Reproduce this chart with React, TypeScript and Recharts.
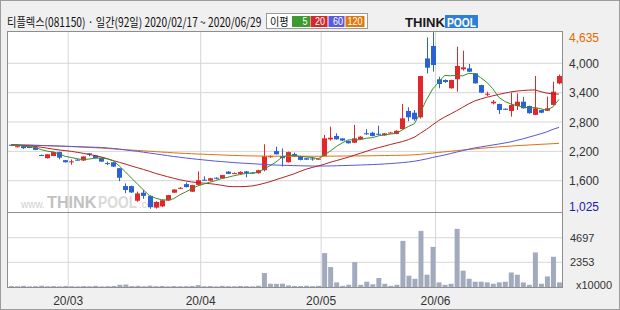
import React from 'react';
import { ComposedChart, Bar, Line, XAxis, YAxis, CartesianGrid } from 'recharts';

// 티플렉스(081150) daily, 2020/02/17 ~ 2020/06/29 (92 sessions)
const monthTicks = [9.5, 31.5, 51.5, 70.5];
const monthLabels = ['20/03', '20/04', '20/05', '20/06'];
const priceTicks = [1025, 1600, 2200, 2800, 3400, 4000, 4635];
const priceGrid = [1600, 2200, 2800, 3400, 4000];
const volumeTicks = [0, 2353, 4697];
const volumeGrid = [2353, 4697];

const opens = [
  2335, 2285, 2305, 2290, 2280, 2125, 2060, 2105, 2185, 2020,
  1985, 2030, 2012, 2160, 2115, 2070, 1960, 1975, 1855, 1490,
  1490, 1190, 1355, 1290, 1050, 1075, 1195, 1355, 1440, 1530,
  1375, 1515, 1620, 1600, 1660, 1650, 1785, 1745, 1740, 1790,
  1765, 1752, 1815, 2080, 2205, 2105, 1978, 2145, 2104, 2060,
  2055, 2040, 2104, 2445, 2515, 2465, 2410, 2376, 2446, 2570,
  2580, 2560, 2527, 2575, 2555, 2656, 3025, 2990, 2896, 4100,
  4354, 3673, 3658, 3490, 3673, 3877, 3898, 3795, 3556, 3365,
  3182, 3168, 3070, 3025, 3127, 3215, 3127, 2945, 3045, 3030,
  3150, 3590,
];
const highs = [
  2345, 2310, 2320, 2300, 2285, 2135, 2145, 2195, 2195, 2025,
  2035, 2040, 2100, 2165, 2120, 2075, 1990, 1985, 1860, 1545,
  1500, 1375, 1410, 1300, 1180, 1215, 1310, 1425, 1470, 1565,
  1515, 1790, 1690, 1660, 1670, 1720, 1795, 1770, 1790, 1800,
  1775, 1825, 2345, 2115, 2295, 2260, 2195, 2175, 2110, 2065,
  2080, 2060, 2535, 2705, 2570, 2470, 2420, 2740, 2510, 2655,
  2600, 2725, 2575, 2600, 2630, 3170, 3100, 3045, 3745, 4530,
  4635, 3726, 3670, 3665, 4340, 4258, 3985, 3800, 3560, 3420,
  3250, 3175, 3080, 3400, 3385, 3315, 3135, 3740, 3050, 3320,
  3625, 3770,
];
const lows = [
  2315, 2280, 2250, 2265, 2225, 2105, 2055, 2100, 2035, 1970,
  1925, 2010, 2005, 2100, 2055, 1985, 1920, 1880, 1590, 1345,
  1350, 1170, 1230, 1025, 1030, 1060, 1190, 1350, 1430, 1460,
  1370, 1505, 1600, 1595, 1630, 1645, 1735, 1740, 1735, 1670,
  1745, 1745, 1790, 2070, 2135, 1890, 1970, 2085, 2015, 2025,
  2010, 2035, 2095, 2420, 2440, 2410, 2360, 2370, 2440, 2540,
  2505, 2530, 2520, 2570, 2550, 2640, 2815, 2826, 2870, 3795,
  3830, 3489, 3600, 3480, 3420, 3850, 3820, 3585, 3390, 3330,
  3160, 2965, 3050, 2910, 3045, 3075, 2970, 2940, 2980, 3025,
  3140, 3570,
];
const closes = [
  2325, 2305, 2265, 2272, 2230, 2115, 2140, 2185, 2070, 1978,
  1995, 2015, 2094, 2135, 2065, 1990, 1950, 1888, 1660, 1410,
  1360, 1340, 1290, 1060, 1165, 1200, 1305, 1420, 1455, 1470,
  1510, 1610, 1605, 1650, 1640, 1715, 1740, 1755, 1780, 1755,
  1750, 1815, 2100, 2100, 2140, 2060, 2185, 2092, 2025, 2030,
  2045, 2050, 2466, 2478, 2446, 2420, 2365, 2466, 2500, 2548,
  2515, 2550, 2568, 2585, 2620, 2875, 2896, 2855, 3740, 3910,
  3965, 3577, 3617, 3658, 3945, 3917, 3828, 3590, 3400, 3378,
  3215, 3045, 3060, 3147, 3215, 3080, 2980, 3080, 2990, 3080,
  3420, 3740,
];
const ma5 = [
  2340, 2330, 2310, 2295, 2280, 2237, 2204, 2188, 2148, 2098,
  2074, 2049, 2030, 2043, 2061, 2060, 2047, 2005, 1899, 1780,
  1654, 1532, 1412, 1292, 1243, 1211, 1204, 1230, 1309, 1370,
  1432, 1493, 1530, 1569, 1603, 1644, 1670, 1701, 1726, 1749,
  1756, 1771, 1840, 1904, 1981, 2083, 2117, 2115, 2100, 2086,
  2075, 2048, 2123, 2204, 2297, 2372, 2435, 2435, 2439, 2469,
  2479, 2516, 2536, 2553, 2568, 2640, 2709, 2766, 3000, 3255,
  3473, 3609, 3752, 3745, 3752, 3743, 3793, 3788, 3706, 3613,
  3482, 3306, 3220, 3169, 3136, 3109, 3088, 3096, 3069, 3040,
  3110, 3262,
];
const ma20 = [
  2333, 2325, 2318, 2310, 2300, 2285, 2265, 2245, 2228, 2215,
  2200, 2180, 2160, 2135, 2112, 2085, 2050, 2010, 1975, 1940,
  1900, 1865, 1830, 1790, 1750, 1715, 1682, 1650, 1620, 1595,
  1575, 1560, 1550, 1540, 1525, 1505, 1485, 1478, 1478, 1482,
  1492, 1515, 1545, 1580, 1620, 1660, 1700, 1740, 1790, 1835,
  1870, 1900, 1935, 1975, 2010, 2045, 2080, 2120, 2160, 2200,
  2240, 2275, 2305, 2340, 2370, 2400, 2440, 2490, 2570, 2650,
  2740, 2830, 2900, 2965, 3030, 3100, 3170, 3230, 3270, 3305,
  3335, 3365, 3390, 3415, 3432, 3445, 3452, 3455, 3420, 3390,
  3375, 3370,
];
const ma60 = [
  2335, 2333, 2330, 2327, 2324, 2320, 2316, 2312, 2308, 2304,
  2300, 2296, 2292, 2288, 2284, 2280, 2270, 2258, 2245, 2230,
  2215, 2200, 2183, 2165, 2148, 2130, 2112, 2095, 2080, 2065,
  2050, 2037, 2025, 2012, 2000, 1990, 1980, 1970, 1962, 1955,
  1948, 1940, 1932, 1925, 1920, 1915, 1912, 1908, 1905, 1903,
  1900, 1900, 1900, 1902, 1905, 1908, 1912, 1916, 1920, 1925,
  1930, 1935, 1942, 1950, 1960, 1970, 1982, 1998, 2020, 2045,
  2075, 2100, 2125, 2155, 2185, 2215, 2245, 2270, 2290, 2310,
  2330, 2350, 2370, 2395, 2425, 2455, 2490, 2525, 2560, 2600,
  2650, 2690,
];
const ma120 = [
  2332, 2330, 2328, 2326, 2323, 2320, 2316, 2312, 2308, 2303,
  2298, 2292, 2286, 2280, 2273, 2266, 2258, 2250, 2242, 2234,
  2226, 2218, 2210, 2202, 2194, 2186, 2178, 2170, 2163, 2157,
  2151, 2146, 2141, 2136, 2131, 2126, 2121, 2117, 2113, 2110,
  2107, 2105, 2103, 2102, 2101, 2100, 2100, 2100, 2100, 2100,
  2100, 2100, 2101, 2102, 2103, 2104, 2105, 2106, 2107, 2108,
  2110, 2112, 2114, 2116, 2118, 2121, 2124, 2130, 2140, 2152,
  2165, 2178, 2190, 2202, 2214, 2226, 2238, 2250, 2262, 2272,
  2282, 2292, 2300, 2308, 2316, 2323, 2330, 2337, 2344, 2350,
  2357, 2364,
];
// volume in units of 10,000 shares
const volumes = [
  90, 70, 110, 60, 80, 120, 70, 90, 60, 100,
  80, 60, 90, 70, 110, 60, 80, 100, 210, 230,
  90, 110, 70, 130, 80, 100, 60, 90, 70, 80,
  100, 180, 70, 90, 60, 110, 80, 70, 100, 90,
  60, 120, 1330, 310, 300, 320, 150, 100, 90, 120,
  80, 110, 3230, 1900, 440, 110, 210, 2370, 210, 505,
  260, 855, 310, 110, 210, 4395, 1075, 785, 5345, 1170,
  3820, 440, 210, 310, 5540, 1560, 785, 505, 505, 440,
  310, 440, 505, 1390, 1170, 440, 210, 3290, 310, 1010,
  2880, 440,
];

const RED = '#e3262a';
const BLUE = '#2a62d6';
const NUM_FONT = "'Liberation Sans', Arial, sans-serif";
const KR_FONT = "'Noto Sans CJK KR', 'Noto Sans', sans-serif";

const rows = closes.map((close, i) => ({
  idx: i,
  open: opens[i],
  high: highs[i],
  low: lows[i],
  close,
  range: [lows[i], highs[i]],
  ma5: ma5[i],
  ma20: ma20[i],
  ma60: ma60[i],
  ma120: ma120[i],
  vol: volumes[i],
}));

function Candle(props: any) {
  const { x, y, width, height, payload } = props;
  if (x == null || y == null) return null;
  const top = Math.min(y, y + height);
  const h = Math.abs(height);
  const k = h / Math.max(1, payload.high - payload.low);
  const up = payload.close >= payload.open;
  const color = up ? RED : BLUE;
  const cx = Math.floor(x + width / 2);
  const bTop = top + (payload.high - Math.max(payload.open, payload.close)) * k;
  const bBot = top + (payload.high - Math.min(payload.open, payload.close)) * k;
  return (
    <g>
      <line x1={cx + 0.5} x2={cx + 0.5} y1={top} y2={top + h} stroke={color} strokeWidth={1} />
      <rect x={cx - 2} y={bTop} width={5} height={Math.max(1, bBot - bTop)} fill={color} />
    </g>
  );
}

function PriceTick(props: any) {
  const { y, payload } = props;
  const v = payload.value;
  const color = v === 4635 ? '#e06a00' : v === 1025 ? '#1c1cb0' : '#333';
  const ty = Math.min(Math.max(y, 37.5), 206.5);
  return (
    <text x={569} y={ty} dy={4.5} fill={color} fontSize={12} fontFamily={NUM_FONT}>
      {v.toLocaleString('en-US')}
    </text>
  );
}

function VolumeTick(props: any) {
  const { y, payload } = props;
  const v = payload.value;
  if (v === 0) {
    return (
      <text x={576} y={y - 2} dy={4} fill="#333" fontSize={11} fontFamily={NUM_FONT}>
        x10000
      </text>
    );
  }
  return (
    <text x={570} y={y} dy={4} fill="#333" fontSize={11} fontFamily={NUM_FONT}>
      {v}
    </text>
  );
}

function MonthTick(props: any) {
  const { x, payload } = props;
  const label = monthLabels[monthTicks.indexOf(payload.value)];
  return (
    <text x={x} y={305} textAnchor="middle" fill="#333" fontSize={12} fontFamily={NUM_FONT}>
      {label}
    </text>
  );
}

export default function App() {
  return (
    <div style={{ position: 'absolute', left: 0, top: 0, width: 620, height: 310, overflow: 'hidden' }}>
      <svg width={620} height={310} style={{ position: 'absolute', left: 0, top: 0 }}>
        <rect x={0} y={0} width={620} height={310} fill="#f0f0f0" />
        <rect x={0.5} y={0.5} width={619} height={309} fill="none" stroke="#9c9c9c" />
        <rect x={7.5} y={31.5} width={555} height={256} fill="#fff" stroke="#8e8e8e" />
        <line x1={8} x2={562} y1={212.5} y2={212.5} stroke="#8e8e8e" />

        {/* watermark */}
        <text x={21} y={208} fontSize={10} fill="#cfcfcf" fontFamily={NUM_FONT}>www.</text>
        <text transform="translate(47,208) scale(0.9,1)" fontSize={17} fontWeight="bold" fill="#c2c2c2"
          fontFamily={NUM_FONT} textLength={55} lengthAdjust="spacingAndGlyphs">THINK</text>
        <text transform="translate(98,208) scale(0.85,1)" fontSize={17} fontWeight="bold" fill="#dadada"
          fontFamily={NUM_FONT} textLength={46} lengthAdjust="spacingAndGlyphs">POOL</text>
        <text x={139} y={208} fontSize={10} fill="#cfcfcf" fontFamily={NUM_FONT}>.com</text>

        {/* header */}
        <text transform="translate(7,26.5) scale(0.8,1)" fontSize={12.5} fill="#111" fontFamily={KR_FONT}
          textLength={318} lengthAdjust="spacingAndGlyphs">
          티플렉스(081150) · 일간(92일) 2020/02/17 ~ 2020/06/29
        </text>
        <rect x={266.5} y={13.5} width={101} height={15} fill="#fff" stroke="#9a9a9a" />
        <text transform="translate(270,25.5) scale(0.85,1)" fontSize={11} fill="#111" fontFamily={KR_FONT}
          textLength={22} lengthAdjust="spacingAndGlyphs">이평</text>
        <rect x={292} y={16} width={18} height={11} fill="#3d9a2f" />
        <rect x={310.5} y={16} width={17} height={11} fill="#d12a2a" />
        <rect x={328.5} y={16} width={16} height={11} fill="#5a5ae2" />
        <rect x={345.5} y={16} width={19} height={11} fill="#e0780e" />
        <text x={302.5} y={25} fontSize={10} fill="#fff" fontFamily={NUM_FONT}
          textLength={5} lengthAdjust="spacingAndGlyphs">5</text>
        <text x={315} y={25} fontSize={10} fill="#fff" fontFamily={NUM_FONT}
          textLength={10} lengthAdjust="spacingAndGlyphs">20</text>
        <text x={333} y={25} fontSize={10} fill="#fff" fontFamily={NUM_FONT}
          textLength={10} lengthAdjust="spacingAndGlyphs">60</text>
        <text x={347.5} y={25} fontSize={10} fill="#fff" fontFamily={NUM_FONT}
          textLength={15} lengthAdjust="spacingAndGlyphs">120</text>

        {/* logo */}
        <text x={405} y={27} fontSize={13} fontWeight="bold" fill="#1a1a1a" fontFamily={NUM_FONT}
          textLength={40} lengthAdjust="spacingAndGlyphs">THINK</text>
        <rect x={445} y={15} width={33} height={13} fill="#2f7fd4" />
        <text x={447} y={27} fontSize={13} fontWeight="bold" fill="#fff" fontFamily={NUM_FONT}
          textLength={29} lengthAdjust="spacingAndGlyphs">POOL</text>
      </svg>

      <div style={{ position: 'absolute', left: 0, top: 0 }}>
        <ComposedChart width={620} height={214} data={rows}
          margin={{ top: 32, right: 0, bottom: 2, left: 8 }}>
          <CartesianGrid stroke="#d6d6d6" horizontalValues={priceGrid} verticalValues={monthTicks} />
          <XAxis dataKey="idx" type="number" domain={[-0.5, 91.5]} ticks={monthTicks} hide />
          <YAxis orientation="right" width={58} domain={[960, 4640]} ticks={priceTicks}
            interval={0} axisLine={false} tickLine={false} tick={<PriceTick />} allowDataOverflow />
          <Line dataKey="ma120" stroke="#e07010" strokeWidth={1} dot={false} isAnimationActive={false} />
          <Line dataKey="ma60" stroke="#5656e0" strokeWidth={1} dot={false} isAnimationActive={false} />
          <Line dataKey="ma20" stroke="#b42222" strokeWidth={1} dot={false} isAnimationActive={false} />
          <Line dataKey="ma5" stroke="#3c8c2c" strokeWidth={1} dot={false} isAnimationActive={false} />
          <Bar dataKey="range" barSize={5} shape={<Candle />} isAnimationActive={false} />
        </ComposedChart>
      </div>

      <div style={{ position: 'absolute', left: 0, top: 0 }}>
        <ComposedChart width={620} height={310} data={rows}
          margin={{ top: 213, right: 0, bottom: 0, left: 8 }}>
          <CartesianGrid stroke="#d6d6d6" horizontalValues={volumeGrid} verticalValues={monthTicks} />
          <XAxis dataKey="idx" type="number" domain={[-0.5, 91.5]} ticks={monthTicks} height={23}
            interval={0} axisLine={false} tickLine={false} tick={<MonthTick />} />
          <YAxis orientation="right" width={58} domain={[0, 7050]} ticks={volumeTicks}
            interval={0} axisLine={false} tickLine={false} tick={<VolumeTick />} />
          <Bar dataKey="vol" barSize={5} fill="#a2aabe" isAnimationActive={false} />
        </ComposedChart>
      </div>
    </div>
  );
}
